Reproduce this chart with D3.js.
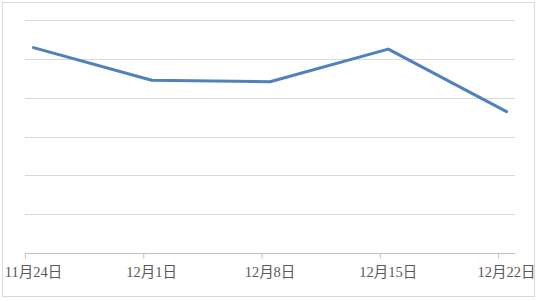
<!DOCTYPE html>
<html>
<head>
<meta charset="utf-8">
<script src="https://cdn.jsdelivr.net/npm/d3@7"></script>
<style>
body { margin: 0; background: #fff; }
</style>
</head>
<body>
<div id="chart"></div>
<script>
// data
const dates = ["2023-11-24", "2023-12-01", "2023-12-08", "2023-12-15", "2023-12-22"]
const values = [5.29, 4.45, 4.41, 5.25, 3.64]
const tickLabels = ["11月24日", "12月1日", "12月8日", "12月15日", "12月22日"]
const yTicks = [0, 1, 2, 3, 4, 5, 6]

const width = 537
const height = 301
const margin = { top: 20, bottom: 48, left: 25, right: 22 }

const parseDate = d3.timeParse("%Y-%m-%d")
const data = dates.map((d, i) => ({ date: parseDate(d), value: values[i] }))

const svg = d3.select("#chart").append("svg")
    .attr("width", width).attr("height", height)

// outer frame
svg.append("rect")
    .attr("x", 2.5).attr("y", 2.5)
    .attr("width", 532).attr("height", 294)
    .attr("fill", "#fff").attr("stroke", "#d9d9d9")

// scales - date axis, one extra day so points sit in the middle of their day
const x = d3.scaleTime()
    .domain([data[0].date, d3.timeDay.offset(data[data.length - 1].date, 1)])
    .range([margin.left, width - margin.right])
const y = d3.scaleLinear().domain([0, 6]).range([height - margin.bottom, margin.top])

const mid = d => d3.timeHour.offset(d, 12)

// gridlines
svg.append("g").selectAll("line").data(yTicks.filter(t => t > 0)).enter().append("line")
    .attr("x1", margin.left).attr("x2", width - margin.right)
    .attr("y1", d => Math.round(y(d)) + 0.5).attr("y2", d => Math.round(y(d)) + 0.5)
    .attr("stroke", "#d9d9d9").attr("stroke-width", 1)

// x axis
const xAxis = d3.axisBottom(x)
    .tickValues(data.map(d => d.date))
    .tickSize(5)
    .tickFormat("")
const xGroup = svg.append("g")
    .attr("transform", `translate(0, ${Math.round(y(0)) + 0.5})`)
    .call(xAxis)
xGroup.select(".domain").attr("stroke", "#bfbfbf").attr("d", `M${margin.left},0H${width - margin.right}`)
xGroup.selectAll(".tick line").attr("stroke", "#bfbfbf")

// tick labels centred on the day
svg.append("g").selectAll("text").data(data).enter().append("text")
    .attr("x", d => x(mid(d.date)))
    .attr("y", 277)
    .attr("text-anchor", "middle")
    .style("font-family", "'Liberation Serif', 'Noto Sans CJK SC', serif")
    .style("font-size", "14.5px")
    .attr("fill", "#595959")
    .text((d, i) => tickLabels[i])

// line
const line = d3.line()
    .x(d => x(mid(d.date)))
    .y(d => y(d.value))

svg.append("path")
    .datum(data)
    .attr("d", line)
    .attr("fill", "none")
    .attr("stroke", "#4f81bd")
    .attr("stroke-width", 3)
    .attr("stroke-linejoin", "round")
    .attr("stroke-linecap", "round")
</script>
</body>
</html>
